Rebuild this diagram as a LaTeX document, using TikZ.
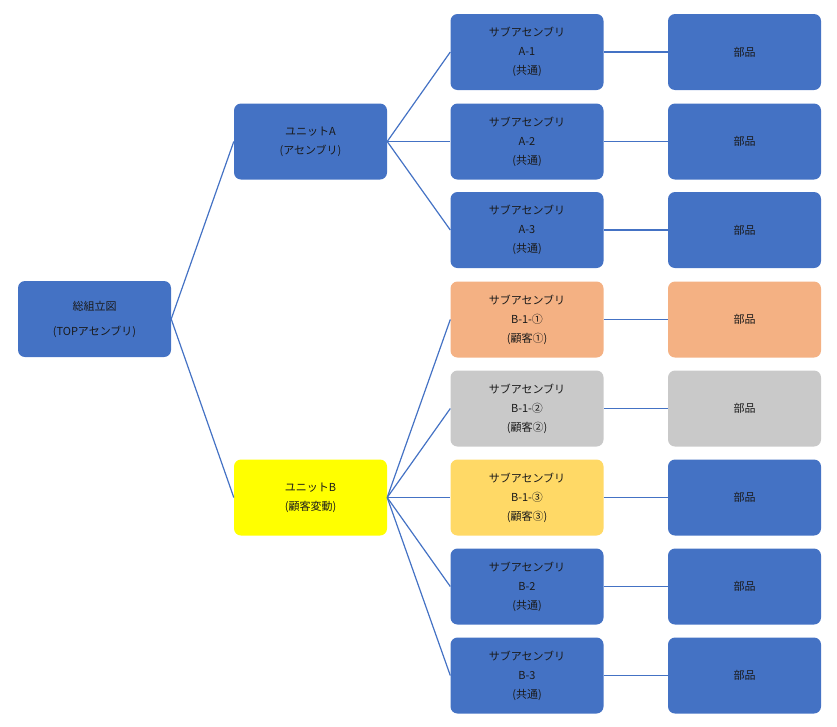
\documentclass[tikz,border=0pt]{standalone}
\usepackage{fontspec}
\setmainfont{Noto Sans CJK JP}
\definecolor{bblue}{HTML}{4472C4}
\definecolor{borange}{HTML}{F4B183}
\definecolor{bgrey}{HTML}{C9C9C9}
\definecolor{byellow}{HTML}{FFFF00}
\definecolor{bgold}{HTML}{FFD966}
\definecolor{txt}{HTML}{1A1A1A}
\begin{document}
\begin{tikzpicture}[x=1pt,y=-1pt,
  box/.style={rounded corners=7pt, minimum width=153pt, minimum height=76pt, inner sep=0pt,
    align=center, text=txt, font=\fontsize{11}{19}\selectfont, fill=bblue, draw=none},
  conn/.style={draw=bblue, line width=1.2pt}]
\useasboundingbox (0,0) rectangle (837,726);
\node[box, font=\fontsize{11}{25}\selectfont] (top) at (94.5,319) {総組立図\\(TOPアセンブリ)};
\node[box] (ua) at (310.5,141.5) {ユニットA\\(アセンブリ)};
\node[box, fill=byellow] (ub) at (310.5,497.5) {ユニットB\\(顧客変動)};
\node[box] (a1) at (527,52) {サブアセンブリ\\A-1\\(共通)};
\node[box] (a2) at (527,141.5) {サブアセンブリ\\A-2\\(共通)};
\node[box] (a3) at (527,230) {サブアセンブリ\\A-3\\(共通)};
\node[box, fill=borange] (b11) at (527,319.5) {サブアセンブリ\\B-1-①\\(顧客①)};
\node[box, fill=bgrey] (b12) at (527,408.5) {サブアセンブリ\\B-1-②\\(顧客②)};
\node[box, fill=bgold] (b13) at (527,497.5) {サブアセンブリ\\B-1-③\\(顧客③)};
\node[box] (b2) at (527,586.5) {サブアセンブリ\\B-2\\(共通)};
\node[box] (b3) at (527,675.5) {サブアセンブリ\\B-3\\(共通)};
\node[box] (pa1) at (744.5,52) {部品};
\node[box] (pa2) at (744.5,141.5) {部品};
\node[box] (pa3) at (744.5,230) {部品};
\node[box, fill=borange] (pb11) at (744.5,319.5) {部品};
\node[box, fill=bgrey] (pb12) at (744.5,408.5) {部品};
\node[box] (pb13) at (744.5,497.5) {部品};
\node[box] (pb2) at (744.5,586.5) {部品};
\node[box] (pb3) at (744.5,675.5) {部品};
\draw[conn] (top.east) -- (ua.west);
\draw[conn] (top.east) -- (ub.west);
\foreach \s in {a1,a2,a3} \draw[conn] (ua.east) -- (\s.west);
\foreach \s in {b11,b12,b13,b2,b3} \draw[conn] (ub.east) -- (\s.west);
\draw[conn] (a1) -- (pa1);
\draw[conn] (a2) -- (pa2);
\draw[conn] (a3) -- (pa3);
\draw[conn] (b11) -- (pb11);
\draw[conn] (b12) -- (pb12);
\draw[conn] (b13) -- (pb13);
\draw[conn] (b2) -- (pb2);
\draw[conn] (b3) -- (pb3);
\end{tikzpicture}
\end{document}
